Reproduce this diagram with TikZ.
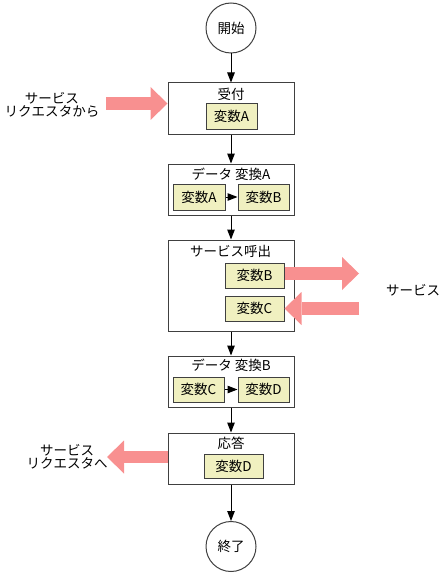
\documentclass[tikz,border=0pt]{standalone}
\usepackage{fontspec}
\setmainfont{Noto Sans CJK JP}
\usepackage{xcolor}
\usetikzlibrary{arrows.meta, positioning}
\definecolor{varfill}{HTML}{F0F0C0}
\definecolor{svcpink}{HTML}{F89090}
\definecolor{boxline}{HTML}{404040}

\begin{document}
\begin{tikzpicture}[x=1pt, y=-1pt,
  every node/.style={font=\fontsize{13.5}{16}\selectfont},
  term/.style={draw=boxline, line width=1pt, circle, minimum size=50pt, inner sep=0pt},
  proc/.style={draw=boxline, line width=1pt, minimum width=126pt, inner sep=0pt},
  var/.style={draw=boxline, fill=varfill, line width=1pt, minimum height=25pt, inner sep=0pt},
  flow/.style={line width=1pt, -{Triangle[width=7.5pt, length=10pt]}},
  svc/.style={draw=svcpink, line width=13pt, -{Triangle[width=33pt, length=17pt, line width=0pt]}}]
\useasboundingbox (0,0) rectangle (445,575);

% terminals
\node[term] (start) at (231,28) {開始};
\node[term] (stop) at (231,546.5) {終了};

% process boxes
\node[proc, minimum height=51pt] (recv) at (231,108.5) {};
\node (recvlbl) at (231,94) {受付};
\node[var, minimum width=51pt] (recvA) at (231.5,116.5) {変数A};

\node[proc, minimum height=51pt] (convA) at (231,189.5) {};
\node (convAlbl) at (231,174) {データ 変換A};
\node[var, minimum width=52pt, minimum height=26pt] (convAa) at (199,197) {変数A};
\node[var, minimum width=51pt, minimum height=26pt] (convAb) at (263.5,197) {変数B};

\node[proc, minimum height=91pt] (call) at (231,285.5) {};
\node (calllbl) at (230.5,251) {サービス呼出};
\node[var, minimum width=59pt] (callB) at (254.5,275.5) {変数B};
\node[var, minimum width=59pt] (callC) at (254.5,308.5) {変数C};

\node[proc, minimum height=51pt] (convB) at (231,381.5) {};
\node (convBlbl) at (231,365) {データ 変換B};
\node[var, minimum width=51pt] (convBc) at (198.5,389.5) {変数C};
\node[var, minimum width=51pt] (convBd) at (263.5,389.5) {変数D};

\node[proc, minimum height=51pt] (resp) at (231,458.5) {};
\node (resplbl) at (231,443) {応答};
\node[var, minimum width=59pt, minimum height=24pt] (respD) at (233.5,466) {変数D};

% outside
\node[align=center] (reqfrom) at (52,104.5) {サービス\\[-3pt]リクエスタから};
\node[align=center] (reqto) at (67,456.5) {サービス\\[-3pt]リクエスタへ};
\node (service) at (413,290) {サービス};
\coordinate (infrom) at (106,103.5);
\coordinate (outto) at (107,457);
\coordinate (svcout) at (359,273.5);
\coordinate (svcin) at (359,308.5);

% flow
\draw[flow] (start) -- (recv);
\draw[flow] (recv) -- (convA);
\draw[flow] (convA) -- (call);
\draw[flow] (call) -- (convB);
\draw[flow] (convB) -- (resp);
\draw[flow] (resp) -- (stop);
\draw[flow] (convAa) -- (convAb);
\draw[flow] (convBc) -- (convBd);

% service arrows
\draw[svc] (infrom) -- (infrom -| recv.west);
\draw[svc] (callB.east |- svcout) -- (svcout);
\draw[svc] (svcin) -- (svcin -| callC.east);
\draw[svc, line width=12pt] (outto -| resp.west) -- (outto);
\end{tikzpicture}
\end{document}
